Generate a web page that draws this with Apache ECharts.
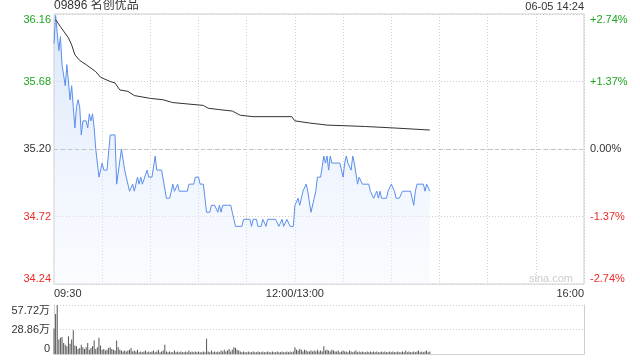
<!DOCTYPE html>
<html><head><meta charset="utf-8">
<script src="https://cdn.jsdelivr.net/npm/echarts@6/dist/echarts.min.js"></script>
<style>html,body{margin:0;padding:0;background:#fff}#c{width:640px;height:360px}</style>
</head><body><div id="c"></div>
<script>
const FONT = '"Liberation Sans", Arial, "Noto Sans CJK SC", sans-serif';
const titleText = '09896 名创优品';
const stampText = '06-05 14:24';
const watermark = 'sina.com';
const prevClose = 35.20;
const priceTicks = [34.24, 34.72, 35.20, 35.68, 36.16];
const pctTicks = [-2.74, -1.37, 0, 1.37, 2.74];
const timeLabels = {0: '09:30', 150: '12:00/13:00', 330: '16:00'};
const volTicks = [0, 28.86, 57.72];

// minute index (09:30 = 0, lunch removed, 16:00 = 330) and price at each turning point
const priceMin = [0,1,3,4,5,7,8,9,10,11,12,13,14,15,16,17,18,20,21,22,23,24,25,26,27,28,30,31,33,35,38,39,40,42,44,47,48,49,50,52,53,54,55,56,58,59,61,63,64,67,70,72,74,75,77,78,83,84,87,88,90,91,93,95,97,98,100,102,103,104,105,108,110,111,113,117,118,122,123,124,126,127,129,130,131,132,133,138,140,141,142,143,145,146,147,149,150,152,153,155,156,157,158,160,162,163,164,166,168,169,170,171,172,173,178,179,180,181,182,183,184,185,186,187,188,189,190,191,192,196,197,198,199,200,201,202,203,204,207,208,210,211,212,213,215,217,222,223,224,225,226,230,231,232,233,234];
const priceVal = [35.95,36.15,35.90,36.00,35.80,35.65,35.80,35.80,35.55,35.65,35.50,35.35,35.50,35.55,35.50,35.30,35.40,35.40,35.35,35.45,35.40,35.45,35.35,35.20,35.20,35.00,35.10,35.05,35.05,35.30,35.30,34.95,34.95,35.20,35.05,34.90,34.90,34.95,34.90,35.00,34.95,35.00,34.95,34.95,35.05,35.00,35.00,35.15,35.05,35.05,34.85,34.85,34.95,34.90,34.95,34.90,34.90,34.95,34.95,35.00,35.00,34.95,34.95,34.75,34.75,34.80,34.80,34.75,34.80,34.75,34.80,34.80,34.80,34.75,34.65,34.65,34.70,34.70,34.65,34.70,34.70,34.65,34.65,34.70,34.70,34.65,34.70,34.70,34.65,34.65,34.70,34.65,34.70,34.70,34.65,34.65,34.80,34.85,34.80,34.90,34.90,34.95,34.90,34.75,34.85,34.90,35.00,35.00,35.15,35.10,35.15,35.05,35.15,35.10,35.10,35.10,35.00,35.10,35.15,35.10,35.10,35.05,35.15,35.10,35.10,34.95,35.00,35.00,34.95,34.95,34.90,34.90,34.85,34.85,34.90,34.85,34.90,34.85,34.85,34.90,34.95,34.95,34.90,34.85,34.85,34.90,34.90,34.85,34.80,34.90,34.95,34.95,34.90,34.95,34.95,34.90];

const avgMin = [1,4,9,11,13,16,20,26,29,35,38,41,46,50,60,68,74,93,96,103,111,116,124,148,150,159,170,194,211,234];
const avgVal = [36.12,36.07,35.99,35.94,35.87,35.83,35.80,35.75,35.71,35.68,35.67,35.62,35.61,35.58,35.56,35.55,35.53,35.51,35.49,35.48,35.47,35.44,35.43,35.43,35.40,35.385,35.37,35.36,35.35,35.335];

// volume per minute (万股), minute 0..234
const volumes = [
30,47,57.7,17,19,20,13,11,9,21,
12,17,28,10,9,6,7,11,8,6,
8,13,5,7,9,16,6,8,19,10,
5,6,4,5,7,8,6,5,4,16,
8,5,4,3,4,3,4,5,7,3,
4,3,5,2,3,2,3,4,2,3,
2,3,4,2,3,5,2,3,4,11,
3,2,3,2,2,4,2,3,2,3,
2,2,3,2,4,2,3,2,3,2,
3,2,2,3,2,18,3,2,4,2,
3,2,3,2,4,3,5,3,4,6,
3,5,8,7,5,4,3,2,3,2,
2,3,2,2,3,2,2,3,2,2,
3,2,2,3,2,2,3,2,2,3,
2,2,3,2,2,3,2,3,2,3,
8,5,4,6,5,3,5,4,3,3,
4,3,4,3,5,3,4,3,9,4,
5,4,3,5,4,3,3,4,2,3,
4,3,3,2,4,3,2,3,4,2,
3,2,3,2,2,3,2,3,2,3,
2,3,2,2,3,2,3,2,2,3,
2,3,2,2,3,2,2,3,2,4,
2,3,2,2,3,2,3,4,2,3,
2,3,4,2,3];

const GREEN = '#1fa51f', RED = '#ee2a2a', DARK = '#333';
const GRIDC = '#cfcfcf';

const chart = echarts.init(document.getElementById('c'), null, {renderer: 'canvas'});
chart.setOption({
  animation: false,
  backgroundColor: '#fff',
  textStyle: {fontFamily: FONT},
  title: [
    {text: titleText, left: 54, top: 0, padding: 0, textStyle: {fontSize: 12, fontWeight: 'normal', color: DARK, fontFamily: FONT}},
    {text: stampText, right: 56, top: 1, padding: 0, textStyle: {fontSize: 11, fontWeight: 'normal', color: DARK, fontFamily: FONT}}
  ],
  graphic: [{type: 'text', right: 67, top: 273, style: {text: watermark, fill: '#cccccc', font: '11px ' + FONT}}],
  grid: [
    {left: 54, right: 56, top: 14, height: 270, show: true, borderColor: GRIDC, borderWidth: 1},
    {left: 54, right: 56, top: 305, height: 49}
  ],
  xAxis: [
    {type: 'value', gridIndex: 0, min: 0, max: 330, interval: 30,
     axisLine: {show: false}, axisTick: {show: false},
     splitLine: {show: true, lineStyle: {color: GRIDC, type: [1, 2]}},
     axisLabel: {show: true, margin: 4, fontSize: 11, color: DARK, fontFamily: FONT,
       showMinLabel: true, showMaxLabel: true, alignMinLabel: 'left', alignMaxLabel: 'right',
       formatter: v => timeLabels[v] || ''}},
    {type: 'value', gridIndex: 1, min: 0, max: 330, interval: 30,
     axisLine: {show: true, lineStyle: {color: GRIDC}}, axisTick: {show: false},
     splitLine: {show: false}, axisLabel: {show: false}}
  ],
  yAxis: [
    {type: 'value', gridIndex: 0, min: 34.24, max: 36.16,
     axisLine: {show: false},
     axisTick: {show: false, customValues: priceTicks},
     splitLine: {show: true, lineStyle: {color: GRIDC, type: [1, 2]}},
     axisLabel: {customValues: priceTicks, margin: 3, fontSize: 11, fontFamily: FONT,
       verticalAlignMinLabel: 'bottom', verticalAlignMaxLabel: 'top',
       formatter: v => v.toFixed(2),
       color: v => (v > prevClose + 1e-6 ? GREEN : (v < prevClose - 1e-6 ? RED : DARK))}},
    {type: 'value', gridIndex: 0, position: 'right', min: -2.74, max: 2.74,
     axisLine: {show: false},
     axisTick: {show: false, customValues: pctTicks},
     splitLine: {show: false},
     axisLabel: {customValues: pctTicks, margin: 6, fontSize: 11, fontFamily: FONT,
       verticalAlignMinLabel: 'bottom', verticalAlignMaxLabel: 'top',
       formatter: v => (v > 0 ? '+' : '') + v.toFixed(2) + '%',
       color: v => (v > 0 ? GREEN : (v < 0 ? RED : DARK))}},
    {type: 'value', gridIndex: 1, min: 0, max: 57.72, interval: 28.86,
     axisLine: {show: true, lineStyle: {color: GRIDC}},
     axisTick: {show: false},
     splitLine: {show: true, lineStyle: {color: GRIDC, type: [1, 2]}},
     axisLabel: {margin: 4, fontSize: 11, color: DARK, fontFamily: FONT,
       verticalAlignMinLabel: 'bottom', verticalAlignMaxLabel: 'top',
       formatter: v => (v === 0 ? '0' : v.toFixed(2) + '万')}},
    {type: 'value', gridIndex: 1, position: 'right', min: 0, max: 57.72,
     axisLine: {show: true, lineStyle: {color: GRIDC}},
     axisTick: {show: false}, splitLine: {show: false}, axisLabel: {show: false}}
  ],
  series: [
    {type: 'line', xAxisIndex: 0, yAxisIndex: 0, symbol: 'none', silent: true,
     data: priceMin.map((m, i) => [m, priceVal[i]]),
     lineStyle: {color: '#5a8fec', width: 1},
     areaStyle: {origin: 'start', color: new echarts.graphic.LinearGradient(0, 0, 0, 1, [
       {offset: 0, color: 'rgba(196,215,247,0.85)'},
       {offset: 1, color: 'rgba(240,245,255,0.5)'}])},
     markLine: {silent: true, symbol: 'none', label: {show: false},
       lineStyle: {color: '#c4c4c4', type: [4, 3], width: 1},
       data: [{yAxis: prevClose}]}},
    {type: 'line', xAxisIndex: 0, yAxisIndex: 0, symbol: 'none', silent: true,
     data: avgMin.map((m, i) => [m, avgVal[i]]),
     lineStyle: {color: '#333', width: 1}},
    {type: 'bar', xAxisIndex: 1, yAxisIndex: 2, silent: true, barWidth: 1,
     data: volumes.map((v, i) => [i, v]),
     itemStyle: {color: '#555'}}
  ]
});
</script></body></html>
